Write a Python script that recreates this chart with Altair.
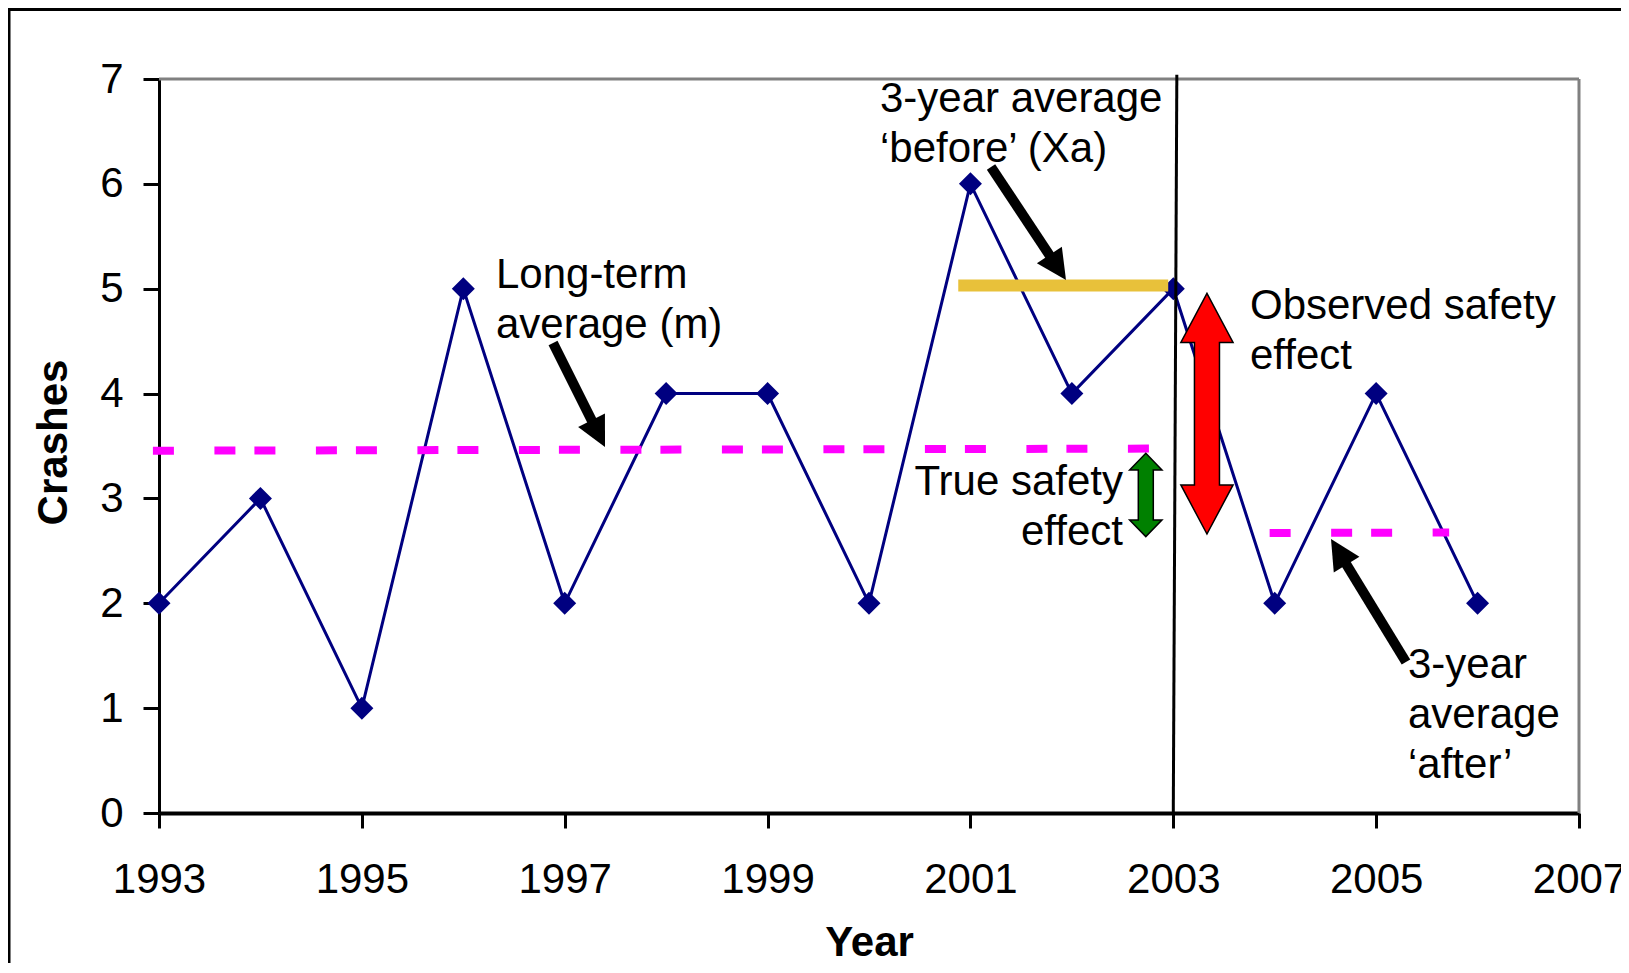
import altair as alt
import pandas as pd

FONT = "Liberation Sans"
FS = 42

# ---------------- data ----------------
years = [1993, 1994, 1995, 1996, 1997, 1998, 1999, 2000, 2001, 2002, 2003, 2004, 2005, 2006]
crashes = [2, 3, 1, 5, 2, 4, 4, 2, 6, 4, 5, 2, 4, 2]

x_tick_values = [1993, 1995, 1997, 1999, 2001, 2003, 2005, 2007]
y_tick_values = [0, 1, 2, 3, 4, 5, 6, 7]
x_domain = [1993, 2007]
y_domain = [0, 7]

# magenta dashed averages (long-term m, 3-year 'after')
avg_series = ["long-term", "long-term", "after", "after"]
avg_x = [1992.94, 2002.77, 2003.95, 2005.72]
avg_y = [3.455, 3.475, 2.67, 2.675]

# gold 3-year average 'before'
before_x = [2000.88, 2002.95]
before_y = [5.03, 5.03]

# plot border (top and right, grey)
border_x = [1993, 2007]
border_x2 = [2007, 2007]
border_y = [7, 0]
border_y2 = [7, 7]

# treatment year line
treat_x = [2003.0]
treat_x2 = [2003.035]
treat_y = [0.0]
treat_y2 = [7.04]

# black pointer arrows: start, neck (end of shaft), tip
arrow_id = ["m", "xa", "after"]
arrow_start_x = [1996.885, 2001.203, 2005.294]
arrow_start_y = [4.482, 6.161, 1.440]
arrow_neck_x = [1997.300, 2001.822, 2004.667]
arrow_neck_y = [3.678, 5.258, 2.434]
arrow_tip_x = [1997.397, 2001.942, 2004.555]
arrow_tip_y = [3.490, 5.083, 2.613]
arrow_angle = [153.4, 146.4, 328.7]

# double-headed arrows (observed = red, true = green), centres
obs_x = [2003.332]
obs_y = [3.808]
true_x = [2002.729]
true_y = [3.033]

# annotation texts
label_text = [
    "Long-term\naverage (m)",
    "3-year average\n\u2018before\u2019 (Xa)",
    "Observed safety\neffect",
    "True safety\neffect",
    "3-year\naverage\n\u2018after\u2019",
]
label_x = [1996.322, 2000.108, 2003.756, 2002.504, 2005.314]
label_y = [5.007, 6.688, 4.711, 3.033, 1.287]
label_align = ["left", "left", "left", "right", "left"]

# ---------------- scales / axes ----------------
xscale = alt.Scale(domain=x_domain, nice=False, zero=False)
yscale = alt.Scale(domain=y_domain, nice=False, zero=False)

xaxis = alt.Axis(
    values=x_tick_values, format="d", title="Year", grid=False,
    domainColor="black", domainWidth=4, tickColor="black", tickWidth=3, tickSize=15,
    labelFont=FONT, labelFontSize=FS, labelColor="black", labelPadding=31,
    labelFlush=False, labelOverlap=False,
    titleFont=FONT, titleFontSize=FS, titleFontWeight="bold", titleColor="black",
    titleX=710, titleY=142, titleBaseline="alphabetic", titleAlign="center",
)
yaxis = alt.Axis(
    values=y_tick_values, format="d", title="Crashes", grid=False,
    domainColor="black", domainWidth=3, tickColor="black", tickWidth=3, tickSize=16,
    labelFont=FONT, labelFontSize=FS, labelColor="black", labelPadding=20,
    labelFlush=False, labelOverlap=False,
    titleFont=FONT, titleFontSize=FS, titleFontWeight="bold", titleColor="black",
    titleAngle=270, titleX=-106, titleY=363, titleBaseline="middle", titleAlign="center",
)


def X(field="x"):
    return alt.X(f"{field}:Q", scale=xscale, axis=xaxis)


def Y(field="y"):
    return alt.Y(f"{field}:Q", scale=yscale, axis=yaxis)


# ---------------- tables ----------------
df_data = pd.DataFrame({"x": years, "y": crashes})
df_avg = pd.DataFrame({"series": avg_series, "x": avg_x, "y": avg_y})
df_before = pd.DataFrame({"x": before_x, "y": before_y})
df_border = pd.DataFrame({"x": border_x, "x2": border_x2, "y": border_y, "y2": border_y2})
df_treat = pd.DataFrame({"x": treat_x, "x2": treat_x2, "y": treat_y, "y2": treat_y2})

shaft_rows = []
for i, a in enumerate(arrow_id):
    shaft_rows.append({"arrow": a, "x": arrow_start_x[i], "y": arrow_start_y[i], "o": 0})
    shaft_rows.append({"arrow": a, "x": arrow_neck_x[i], "y": arrow_neck_y[i], "o": 1})
df_shaft = pd.DataFrame(shaft_rows)
df_head = pd.DataFrame({"arrow": arrow_id, "x": arrow_tip_x, "y": arrow_tip_y, "angle": arrow_angle})
df_obs = pd.DataFrame({"x": obs_x, "y": obs_y})
df_true = pd.DataFrame({"x": true_x, "y": true_y})
df_text = pd.DataFrame({"text": label_text, "x": label_x, "y": label_y, "align": label_align})
df_one = pd.DataFrame({"k": [0]})

# ---------------- layers ----------------
frame = alt.Chart(df_one).mark_rect(fillOpacity=0, stroke="black", strokeWidth=3).encode(
    x=alt.value(-150), x2=alt.value(2000), y=alt.value(-69.5), y2=alt.value(2000)
)

border = alt.Chart(df_border).mark_rule(color="#808080", strokeWidth=3).encode(
    x=X(), x2="x2:Q", y=Y(), y2="y2:Q"
)

line = alt.Chart(df_data).mark_line(color="#000080", strokeWidth=3).encode(x=X(), y=Y())
points = alt.Chart(df_data).mark_point(
    shape="diamond", filled=True, size=529, color="#000080", opacity=1
).encode(x=X(), y=Y())

avg = alt.Chart(df_avg).mark_line(
    color="#FF00FF", strokeWidth=8, strokeDash=[21, 40.5, 21, 19], strokeCap="butt"
).encode(x=X(), y=Y(), detail="series:N")

before = alt.Chart(df_before).mark_line(color="#E8C13A", strokeWidth=12, strokeCap="butt").encode(
    x=X(), y=Y()
)

treat = alt.Chart(df_treat).mark_rule(color="black", strokeWidth=3).encode(
    x=X(), x2="x2:Q", y=Y(), y2="y2:Q"
)

shafts = alt.Chart(df_shaft).mark_line(color="black", strokeWidth=10, strokeCap="butt").encode(
    x=X(), y=Y(), detail="arrow:N", order="o:Q"
)
heads = alt.Chart(df_head).mark_point(
    shape="M0,0L1,2L-1,2Z", size=900, filled=True, fill="black", strokeWidth=0, opacity=1
).encode(x=X(), y=Y(), angle=alt.Angle("angle:Q", scale=None))

red_path = ("M0,-1L0.217,-0.592L0.104,-0.592L0.104,0.592L0.217,0.592L0,1"
            "L-0.217,0.592L-0.104,0.592L-0.104,-0.592L-0.217,-0.592Z")
obs_arrow = alt.Chart(df_obs).mark_point(
    shape=red_path, size=57900, filled=True, fill="#FF0000", stroke="black",
    strokeWidth=1.5, strokeJoin="miter", opacity=1
).encode(x=X(), y=Y())

green_path = ("M0,-1L0.388,-0.6L0.18,-0.6L0.18,0.6L0.388,0.6L0,1"
              "L-0.388,0.6L-0.18,0.6L-0.18,-0.6L-0.388,-0.6Z")
true_arrow = alt.Chart(df_true).mark_point(
    shape=green_path, size=6944, filled=True, fill="#008000", stroke="black",
    strokeWidth=1.5, strokeJoin="miter", opacity=1
).encode(x=X(), y=Y())

text_left = alt.Chart(df_text).transform_filter(alt.datum.align == "left").mark_text(
    align="left", baseline="alphabetic", font=FONT, fontSize=FS, lineBreak="\n",
    lineHeight=50, color="black"
).encode(x=X(), y=Y(), text="text:N")
text_right = alt.Chart(df_text).transform_filter(alt.datum.align == "right").mark_text(
    align="right", baseline="alphabetic", font=FONT, fontSize=FS, lineBreak="\n",
    lineHeight=50, color="black"
).encode(x=X(), y=Y(), text="text:N")

chart = alt.layer(
    frame, border, line, points, avg, before, treat, shafts, heads,
    obs_arrow, true_arrow, text_left, text_right
).properties(
    width=1420, height=734,
    padding={"left": 151, "top": 71, "right": 42, "bottom": 150},
    autosize=alt.AutoSizeParams(type="none"),
).configure_view(stroke=None).configure(background="white")

chart.save("out.html", embed_options={"renderer": "svg", "actions": False})
